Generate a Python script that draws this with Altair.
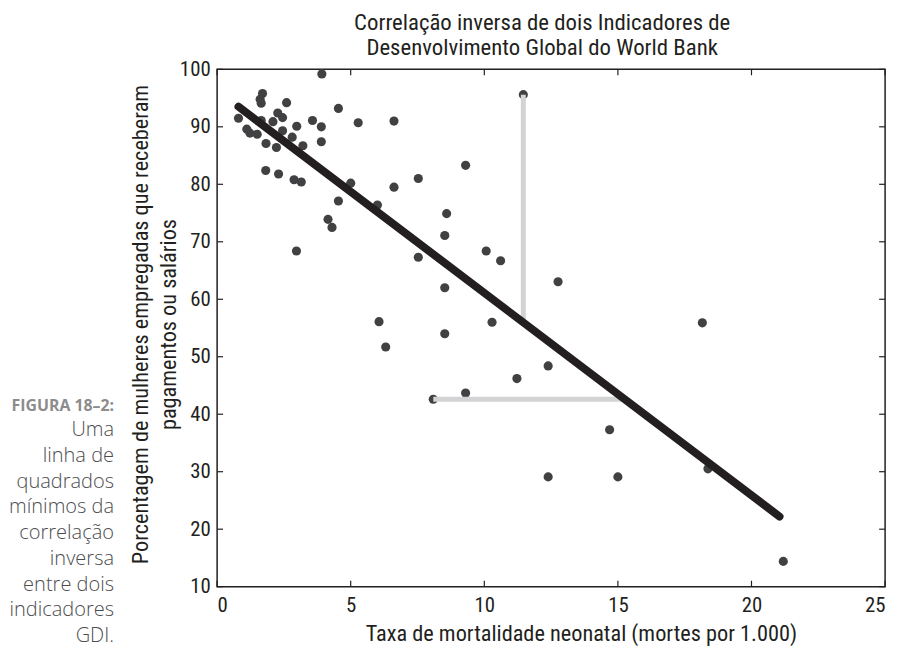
import altair as alt
import pandas as pd

# ---- data ----
pt_x = [3.92, 1.70, 1.61, 1.65, 2.60, 4.54, 0.80, 2.27, 2.45, 2.09, 1.65, 3.57,
        5.28, 6.62, 2.98, 3.90, 1.11, 1.23, 1.50, 2.45, 2.81, 3.90, 1.83, 2.22,
        3.21, 1.82, 2.30, 2.88, 3.15, 5.00, 6.62, 4.54, 6.00, 4.15, 4.30, 2.97,
        11.46, 9.30, 7.53, 8.59, 8.52, 7.53, 10.07, 10.61, 12.76, 8.52, 10.29,
        8.52, 6.06, 6.31, 12.39, 11.22, 9.30, 8.09, 14.69, 12.39, 15.00, 18.16,
        18.37, 21.19]
pt_y = [99.2, 95.8, 94.8, 94.1, 94.2, 93.2, 91.5, 92.4, 91.6, 90.9, 91.1, 91.1,
        90.7, 91.0, 90.1, 90.0, 89.6, 88.9, 88.7, 89.3, 88.2, 87.4, 87.1, 86.4,
        86.7, 82.4, 81.8, 80.8, 80.4, 80.2, 79.5, 77.1, 76.4, 73.9, 72.5, 68.4,
        95.6, 83.3, 81.0, 74.9, 71.1, 67.3, 68.4, 66.7, 63.05, 62.0, 56.0,
        54.0, 56.1, 51.7, 48.4, 46.2, 43.7, 42.6, 37.3, 29.1, 29.1, 55.9,
        30.5, 14.4]

fit_x = [0.8, 21.05]
fit_y = [93.5, 22.2]

res_x = [11.46, 8.09]
res_x2 = [11.46, 15.21]
res_y = [95.6, 42.6]
res_y2 = [56.0, 42.6]

x_ticks = [0, 5, 10, 15, 20, 25]
y_ticks = [10, 20, 30, 40, 50, 60, 70, 80, 90, 100]

title_lines = ["Correlação inversa de dois Indicadores de",
               "Desenvolvimento Global do World Bank"]
x_title = "Taxa de mortalidade neonatal (mortes por 1.000)"
y_title_lines = ["Porcentagem de mulheres empregadas que receberam",
                 "pagamentos ou salários"]
caption_head = "FIGURA 18–2:"
caption_lines = ["Uma", "linha de", "quadrados", "mínimos da", "correlação",
                 "inversa", "entre dois", "indicadores", "GDI."]

# ---- styling ----
W, H = 674, 522
COND = "Liberation Sans Narrow, Roboto Condensed, DejaVu Sans Condensed, Roboto, sans-serif"
INK = "#231f20"
DOT = "#414042"

xs = alt.Scale(domain=[0, 25], nice=False, zero=False)
ys = alt.Scale(domain=[10, 100], nice=False, zero=False)

X = alt.X("x:Q", scale=xs, axis=alt.Axis(
    values=x_ticks, title=x_title, titleX=367, titleY=54,
    titleBaseline="alphabetic", titleAlign="center"))
Y = alt.Y("y:Q", scale=ys, axis=alt.Axis(
    values=y_ticks, title=y_title_lines, titleAngle=270,
    titleX=-70, titleY=257, titleBaseline="alphabetic",
    titleAlign="center", titleLineHeight=28))

pts = pd.DataFrame({"x": pt_x, "y": pt_y})
fit = pd.DataFrame({"x": fit_x, "y": fit_y})
res = pd.DataFrame({"x": res_x, "x2": res_x2, "y": res_y, "y2": res_y2})
xt = pd.DataFrame({"x": x_ticks})
yt = pd.DataFrame({"y": y_ticks})
one = pd.DataFrame({"a": [0]})

points = alt.Chart(pts).mark_circle(size=85, color=DOT, opacity=1).encode(x=X, y=Y)

resid = alt.Chart(res).mark_rule(color="#d1d3d4", strokeWidth=5).encode(
    x=X, x2="x2:Q", y=Y, y2="y2:Q")

line = alt.Chart(fit).mark_line(color=INK, strokeWidth=8, strokeCap="round").encode(
    x=X, y=Y)

tick_style = dict(color=INK, strokeWidth=1.2)
xb = alt.Chart(xt).mark_rule(**tick_style).encode(
    x=X, y=alt.value(H), y2=alt.value(H - 6))
xtop = alt.Chart(xt).mark_rule(**tick_style).encode(
    x=X, y=alt.value(0), y2=alt.value(6))
yl = alt.Chart(yt).mark_rule(**tick_style).encode(
    y=Y, x=alt.value(0), x2=alt.value(6))
yr = alt.Chart(yt).mark_rule(**tick_style).encode(
    y=Y, x=alt.value(W), x2=alt.value(W - 6))

cap_head = alt.Chart(one).mark_text(
    text=caption_head, align="right", baseline="alphabetic", font="Open Sans",
    fontSize=16, fontWeight="bold", color="#8c8c8c",
).encode(x=alt.value(-104), y=alt.value(345))

cap_body = alt.Chart(one).mark_text(
    text=caption_lines, align="right", baseline="alphabetic", font="Open Sans",
    fontSize=20.2, fontWeight=300, color="#4d4d4f", lineHeight=26,
).encode(x=alt.value(-104), y=alt.value(370))

chart = alt.layer(points, resid, line, xb, xtop, yl, yr, cap_head, cap_body).properties(
    width=W, height=H,
    autosize=alt.AutoSizeParams(type="none"),
    padding={"left": 211, "top": 59, "right": 10, "bottom": 60},
    title=alt.TitleParams(text=title_lines, anchor="middle", frame="group",
                          dx=-9, dy=10, offset=8,
                          font=COND, fontSize=23, fontWeight="normal",
                          color=INK, lineHeight=26),
).configure_view(stroke=INK, strokeWidth=1.5).configure_axis(
    grid=False, domain=False, ticks=False,
    labelFont=COND, labelFontSize=21, labelColor=INK,
    titleFont=COND, titleFontSize=22.5, titleColor=INK, titleFontWeight="normal",
).configure_axisX(labelPadding=8).configure_axisY(labelPadding=7)

chart.save("out.html", embed_options={"renderer": "svg", "actions": False})
